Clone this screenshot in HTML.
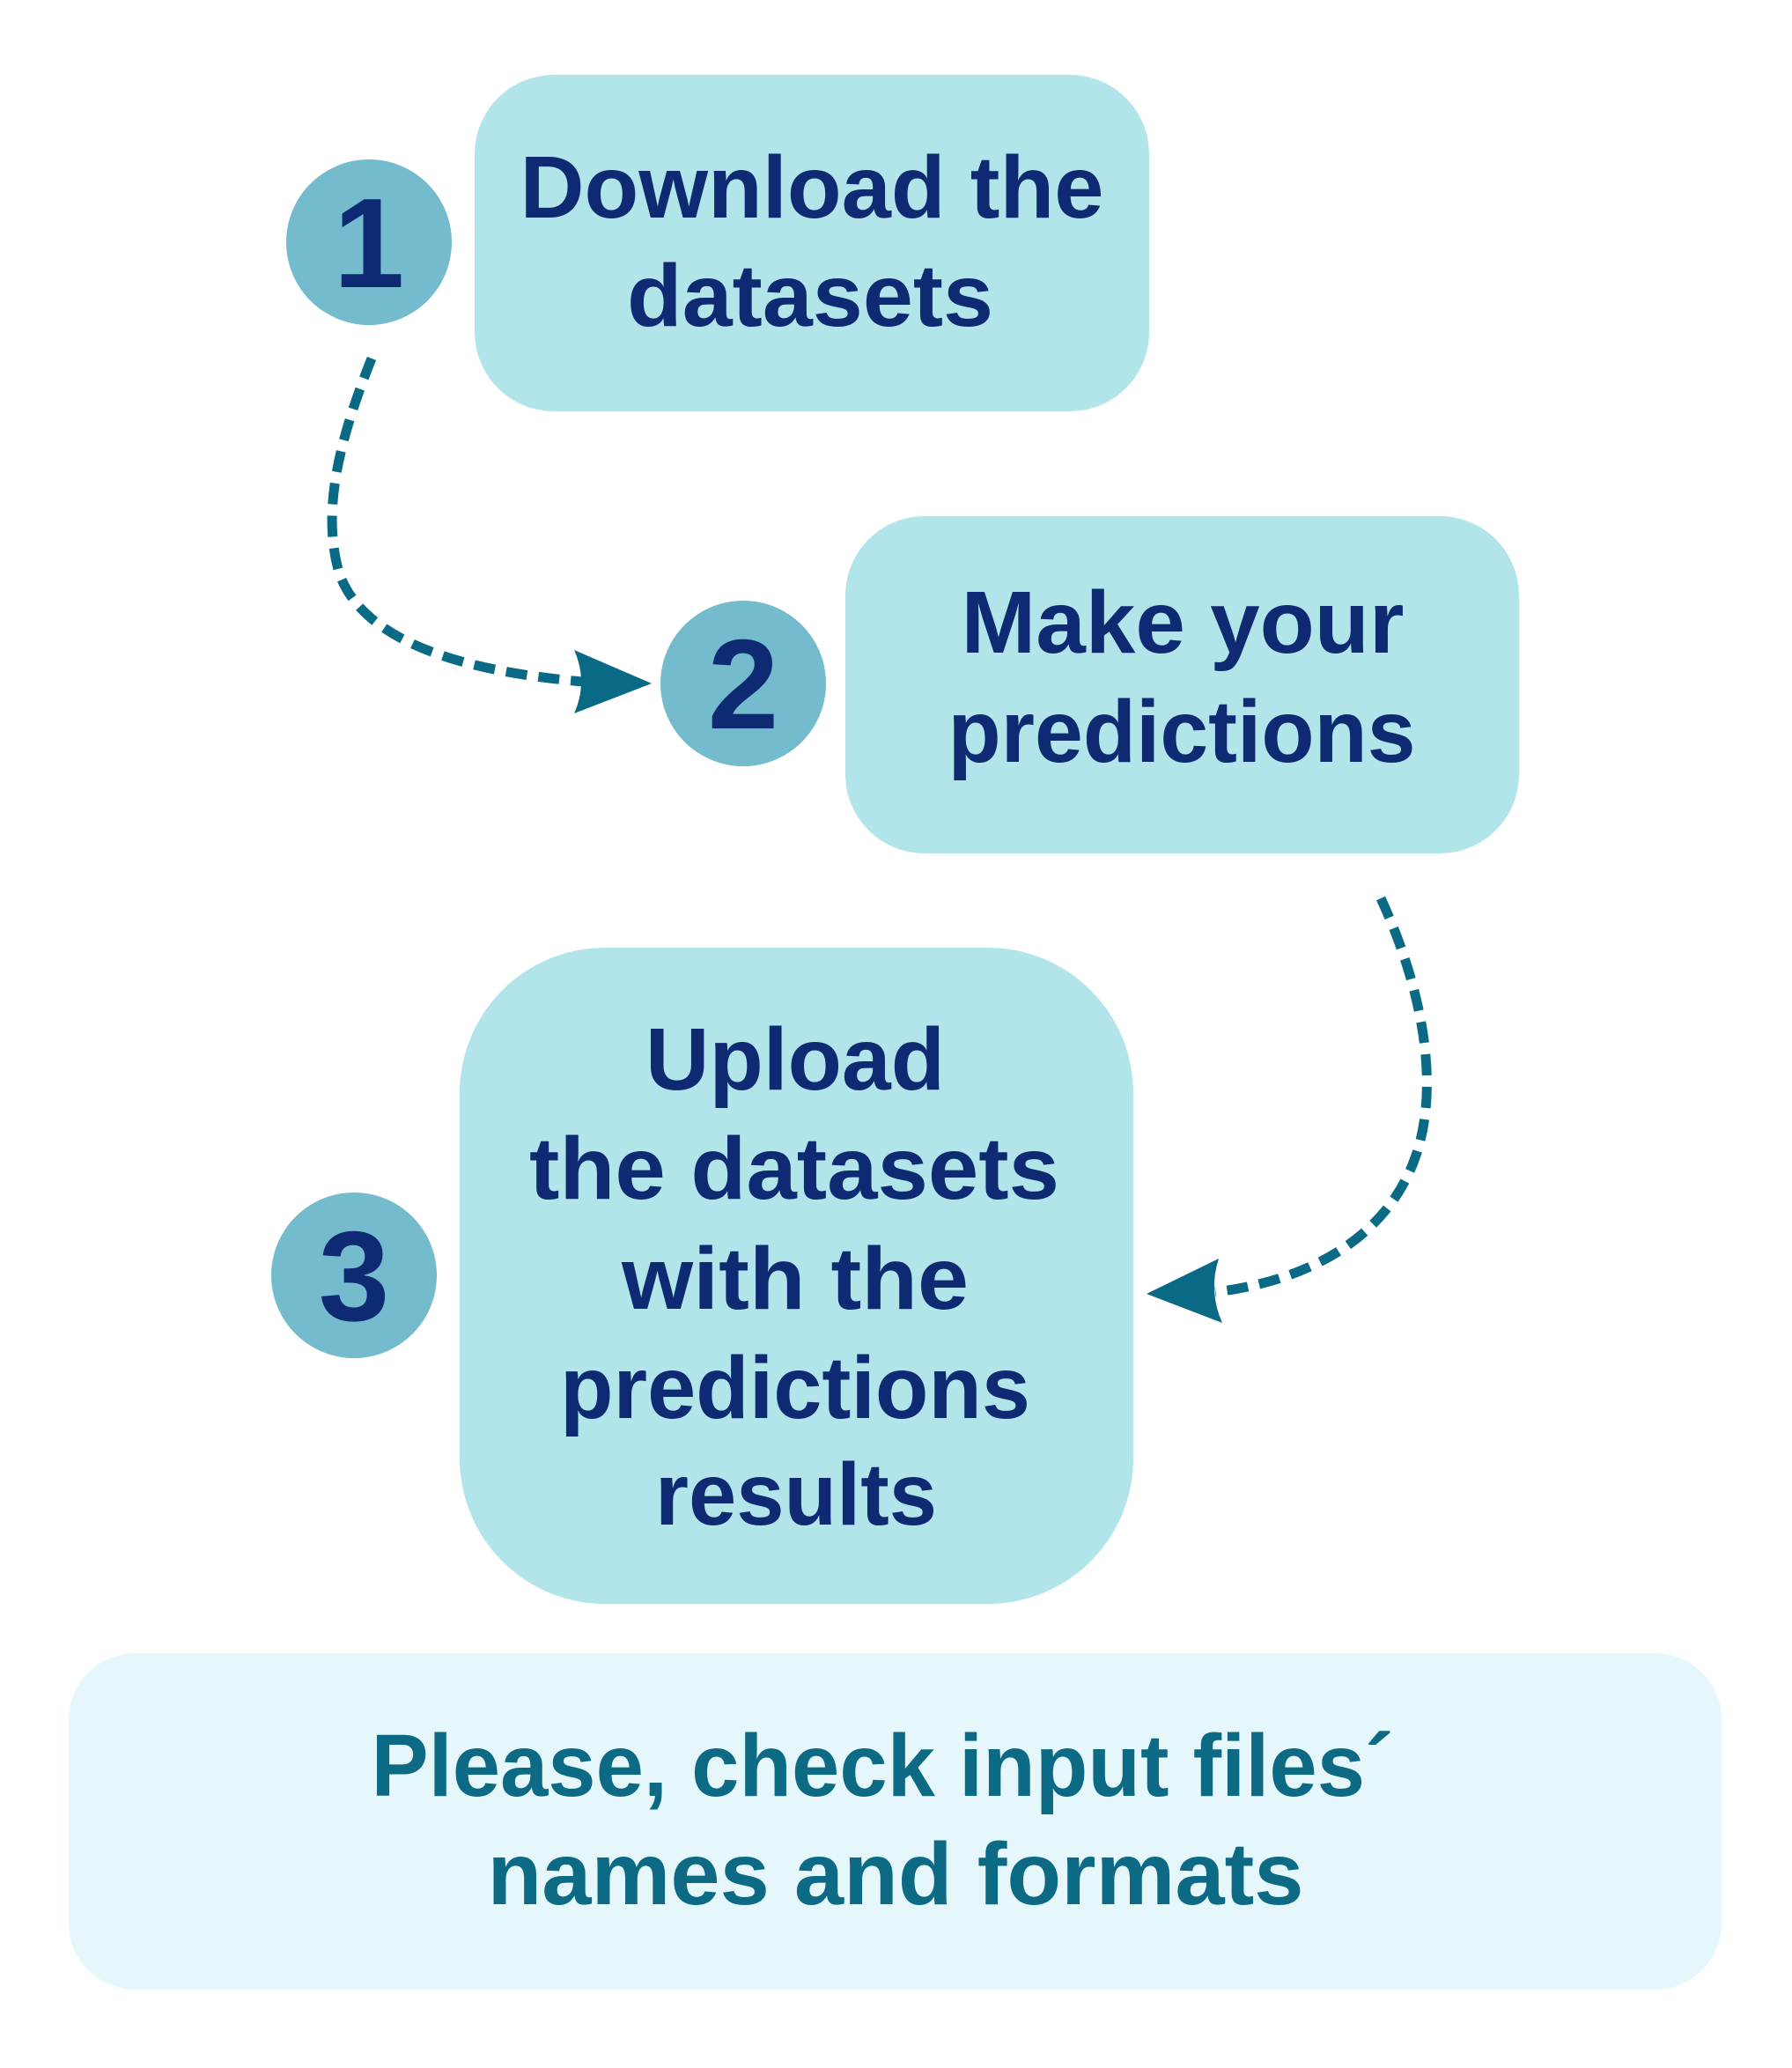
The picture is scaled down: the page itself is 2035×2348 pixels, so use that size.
<!DOCTYPE html>
<html><head><meta charset="utf-8"><style>
html,body{margin:0;padding:0;background:#fff;}
svg{display:block;}
text{font-family:"Liberation Sans",sans-serif;font-weight:bold;}
</style></head><body>
<svg width="2035" height="2348" viewBox="0 0 2035 2348">
<g>
<rect x="539" y="85" width="766" height="382" rx="90" fill="#b1e5ea"/>
<circle cx="419" cy="275" r="94" fill="#74bccd"/>
<text x="419" y="326" text-anchor="middle" font-size="145" fill="#0d2a73">1</text>
<text x="922" y="247" text-anchor="middle" font-size="100" fill="#0d2a73" textLength="663" lengthAdjust="spacingAndGlyphs">Download the</text>
<text x="920" y="370" text-anchor="middle" font-size="100" fill="#0d2a73" textLength="416" lengthAdjust="spacingAndGlyphs">datasets</text>
</g>
<g>
<rect x="960" y="586" width="765" height="383" rx="90" fill="#b1e5ea"/>
<circle cx="844" cy="776" r="94" fill="#74bccd"/>
<text x="844" y="827" text-anchor="middle" font-size="145" fill="#0d2a73">2</text>
<text x="1343" y="741" text-anchor="middle" font-size="100" fill="#0d2a73" textLength="503" lengthAdjust="spacingAndGlyphs">Make your</text>
<text x="1342" y="865" text-anchor="middle" font-size="100" fill="#0d2a73" textLength="531" lengthAdjust="spacingAndGlyphs">predictions</text>
</g>
<g>
<rect x="522" y="1076" width="765" height="745" rx="165" fill="#b1e5ea"/>
<circle cx="402" cy="1448" r="94" fill="#74bccd"/>
<text x="402" y="1499" text-anchor="middle" font-size="145" fill="#0d2a73">3</text>
<text x="903" y="1237" text-anchor="middle" font-size="100" fill="#0d2a73" textLength="340" lengthAdjust="spacingAndGlyphs">Upload</text>
<text x="902" y="1361" text-anchor="middle" font-size="100" fill="#0d2a73" textLength="602" lengthAdjust="spacingAndGlyphs">the datasets</text>
<text x="903" y="1486" text-anchor="middle" font-size="100" fill="#0d2a73" textLength="394" lengthAdjust="spacingAndGlyphs">with the</text>
<text x="903" y="1610" text-anchor="middle" font-size="100" fill="#0d2a73" textLength="534" lengthAdjust="spacingAndGlyphs">predictions</text>
<text x="904" y="1731" text-anchor="middle" font-size="100" fill="#0d2a73" textLength="320" lengthAdjust="spacingAndGlyphs">results</text>
</g>
<g>
<path d="M422,407 C385,500 365,580 385,650 C415,740 560,765 662,774" fill="none" stroke="#0a6a86" stroke-width="11" stroke-dasharray="24,13"/>
<path d="M652,738 L740,776 L652,810 Q668,774 652,738 Z" fill="#0a6a86"/>
</g>
<g>
<path d="M1568,1020 C1610,1110 1640,1230 1605,1320 C1570,1410 1480,1455 1380,1467" fill="none" stroke="#0a6a86" stroke-width="11" stroke-dasharray="24,13"/>
<path d="M1384,1429 L1302,1469 L1388,1502 Q1372,1466 1384,1429 Z" fill="#0a6a86"/>
</g>
<g>
<rect x="78" y="1877" width="1877" height="382" rx="75" fill="#e5f7fa"/>
<text x="1002" y="2039" text-anchor="middle" font-size="100" fill="#0d6a85" textLength="1161" lengthAdjust="spacingAndGlyphs">Please, check input files´</text>
<text x="1017" y="2162" text-anchor="middle" font-size="100" fill="#0d6a85" textLength="927" lengthAdjust="spacingAndGlyphs">names and formats</text>
</g>
</svg>
</body></html>
